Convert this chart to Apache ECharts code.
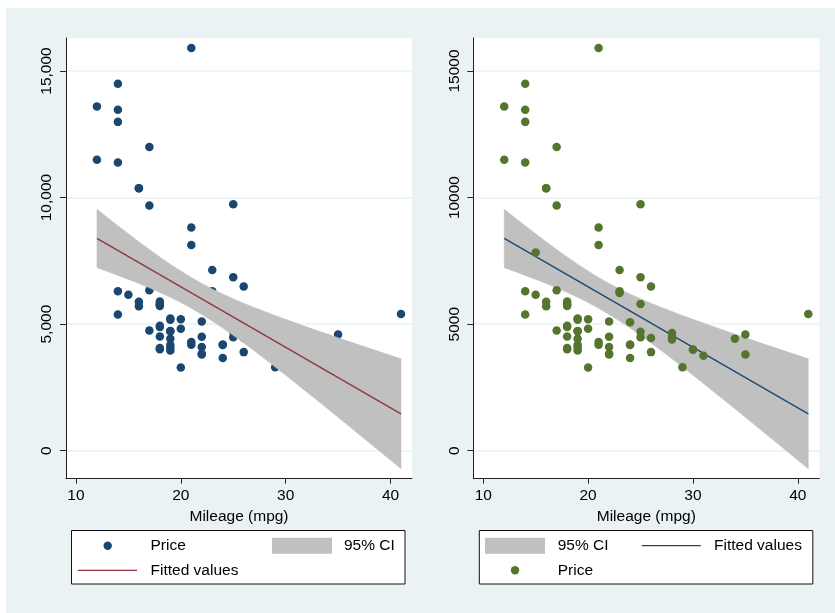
<!DOCTYPE html>
<html>
<head>
<meta charset="utf-8">
<script src="https://cdn.jsdelivr.net/npm/echarts@6/dist/echarts.min.js"></script>
<style>
  html, body { margin: 0; padding: 0; background: #ffffff; }
  #chart { width: 835px; height: 613px; }
</style>
</head>
<body>
<div id="chart"></div>
<script>
// Mileage (mpg) and price for the 74 cars
const mpg = [22,17,22,20,15,18,26,20,16,19,14,14,21,29,16,22,22,24,19,30,18,16,17,28,21,12,12,14,22,14,15,18,14,20,21,19,19,18,19,24,16,28,34,25,26,18,18,18,19,19,19,24,17,23,25,23,35,24,21,21,25,28,30,14,26,35,18,31,18,23,41,25,25,17];
const price = [4099,4749,3799,4816,7827,5788,4453,5189,10372,4082,11385,14500,15906,3299,5705,4504,5104,3667,3955,3984,4010,5886,6342,4389,4187,11497,13594,13466,3829,5379,6165,4516,6303,3291,8814,5172,4733,4890,4181,4195,10371,4647,4425,4482,6486,4060,5798,4934,5222,4723,4424,4172,9690,6295,9735,6229,4589,5079,8129,4296,5799,4499,3995,12990,3895,3798,5899,3748,5719,7140,5397,4697,6850,11995];

// Linear fit end points
const fitX = [12, 41];
const fitY = [8386, 1458];

// 95% confidence band of the fit
const ciX = [12,13,14,15,16,17,18,19,20,21,22,23,24,25,26,27,28,29,30,31,32,33,34,35,36,37,38,39,40,41];
const ciLower = [7230,7080,6926,6768,6604,6433,6252,6059,5852,5628,5385,5124,4848,4557,4256,3946,3630,3308,2983,2654,2323,1990,1656,1320,983,645,306,-33,-373,-713];
const ciUpper = [9543,9215,8891,8572,8258,7951,7654,7369,7099,6845,6610,6393,6192,6004,5828,5660,5498,5342,5190,5041,4894,4749,4606,4464,4323,4183,4044,3906,3767,3630];

// Axis tick values
const xTicks = [10, 20, 30, 40];
const yTicks = [0, 5000, 10000, 15000];

const FONT = '"Liberation Sans", Arial, sans-serif';
const FS = 15.5;
const BG = '#eaf2f3';
const CI_GRAY = '#c0c0c0';
const NAVY = '#1a476f';
const MAROON = '#90353b';
const GREEN = '#55752f';

const X_MIN = 9.05, X_MAX = 42.05;
const Y_MIN = -1105, Y_MAX = 16303;

const scatterPts = mpg.map((m, i) => [m, price[i]]);
const fitPts = fitX.map((x, i) => [x, fitY[i]]);
const ciRows = ciX.map((x, i) => [x, ciLower[i], ciUpper[i]]);

function xAxisFor(gridIndex) {
  return {
    gridIndex, type: 'value', min: X_MIN, max: X_MAX,
    name: 'Mileage (mpg)', nameLocation: 'middle', nameGap: 26,
    nameTextStyle: { fontFamily: FONT, fontSize: FS, color: '#000' },
    axisLine: { show: true, onZero: false, lineStyle: { color: '#222', width: 1 } },
    axisTick: { show: true, length: 5, customValues: xTicks, lineStyle: { color: '#222' } },
    axisLabel: { customValues: xTicks, margin: 9, fontFamily: FONT, fontSize: FS, color: '#000' },
    splitLine: { show: false }
  };
}

function yAxisFor(gridIndex, withCommas) {
  return {
    gridIndex, type: 'value', min: Y_MIN, max: Y_MAX,
    axisLine: { show: true, onZero: false, lineStyle: { color: '#222', width: 1 } },
    axisTick: { show: true, length: 6, customValues: yTicks, lineStyle: { color: '#222' } },
    axisLabel: {
      customValues: yTicks, rotate: 90, margin: 11,
      fontFamily: FONT, fontSize: FS, color: '#000',
      formatter: v => withCommas ? v.toLocaleString('en-US') : String(v)
    },
    splitLine: { show: true, lineStyle: { color: BG, width: 1.5 } }
  };
}

// Confidence band: one polygon along the lower bound and back along the upper bound
function bandSeries(idx, z) {
  return {
    type: 'custom', xAxisIndex: idx, yAxisIndex: idx, data: ciRows, z, silent: true,
    encode: { x: 0, y: [1, 2] },
    renderItem: (params, api) => {
      if (params.dataIndex !== 0) return null;
      const pts = [];
      for (let i = 0; i < ciRows.length; i++) pts.push(api.coord([ciRows[i][0], ciRows[i][1]]));
      for (let i = ciRows.length - 1; i >= 0; i--) pts.push(api.coord([ciRows[i][0], ciRows[i][2]]));
      return {
        type: 'polygon', shape: { points: pts },
        style: { fill: CI_GRAY, stroke: CI_GRAY, lineWidth: 0.5 }
      };
    }
  };
}

function fitSeries(idx, color, z) {
  return {
    type: 'line', xAxisIndex: idx, yAxisIndex: idx, data: fitPts, symbol: 'none',
    lineStyle: { color, width: 1.3 }, z, silent: true
  };
}

function scatterSeries(idx, color, z) {
  return {
    type: 'scatter', xAxisIndex: idx, yAxisIndex: idx, data: scatterPts,
    symbol: 'circle', symbolSize: 8.5, itemStyle: { color, opacity: 1 }, z, silent: true
  };
}

// Legend boxes drawn as graphic elements
function legendBox(left, entries) {
  const els = [{
    type: 'rect', shape: { x: left, y: 530.5, width: 333.5, height: 53.5 },
    style: { fill: '#fff', stroke: '#111', lineWidth: 1 }
  }];
  entries.forEach(e => {
    if (e.kind === 'dot') {
      els.push({ type: 'circle', shape: { cx: e.x, cy: e.y, r: 4.2 }, style: { fill: e.color } });
    } else if (e.kind === 'rect') {
      els.push({ type: 'rect', shape: { x: e.x, y: e.y - 8, width: 60, height: 16 }, style: { fill: CI_GRAY } });
    } else if (e.kind === 'line') {
      els.push({ type: 'line', shape: { x1: e.x, y1: e.y, x2: e.x + 59, y2: e.y }, style: { stroke: e.color, lineWidth: 1.3 } });
    }
    els.push({
      type: 'text', x: e.tx, y: e.y,
      style: { text: e.label, font: FS + 'px ' + FONT, fill: '#000', verticalAlign: 'middle' }
    });
  });
  return els;
}

const chart = echarts.init(document.getElementById('chart'), null, { renderer: 'canvas' });

chart.setOption({
  animation: false,
  backgroundColor: '#ffffff',
  graphic: [
    { type: 'rect', z: -10, shape: { x: 6, y: 8, width: 829, height: 605 }, style: { fill: BG } },
    ...legendBox(71.5, [
      { kind: 'dot', x: 107.7, y: 545.7, color: NAVY, tx: 150.5, label: 'Price' },
      { kind: 'rect', x: 272, y: 545.7, tx: 344, label: '95% CI' },
      { kind: 'line', x: 78, y: 570.3, color: MAROON, tx: 150.5, label: 'Fitted values' }
    ]),
    ...legendBox(479.3, [
      { kind: 'rect', x: 485, y: 545.7, tx: 557.7, label: '95% CI' },
      { kind: 'line', x: 641.7, y: 545.7, color: NAVY, tx: 714, label: 'Fitted values' },
      { kind: 'dot', x: 515, y: 570.3, color: GREEN, tx: 557.7, label: 'Price' }
    ])
  ],
  grid: [
    { left: 66, top: 38, width: 346, height: 440.7, show: true, backgroundColor: '#fff', borderWidth: 0 },
    { left: 473.3, top: 38, width: 346, height: 440.7, show: true, backgroundColor: '#fff', borderWidth: 0 }
  ],
  xAxis: [xAxisFor(0), xAxisFor(1)],
  yAxis: [yAxisFor(0, true), yAxisFor(1, false)],
  series: [
    // Left panel: points underneath the band, fitted line on top
    scatterSeries(0, NAVY, 2),
    bandSeries(0, 3),
    fitSeries(0, MAROON, 4),
    // Right panel: band, then fitted line, then points on top
    bandSeries(1, 2),
    fitSeries(1, NAVY, 3),
    scatterSeries(1, GREEN, 4)
  ]
});
</script>
</body>
</html>
